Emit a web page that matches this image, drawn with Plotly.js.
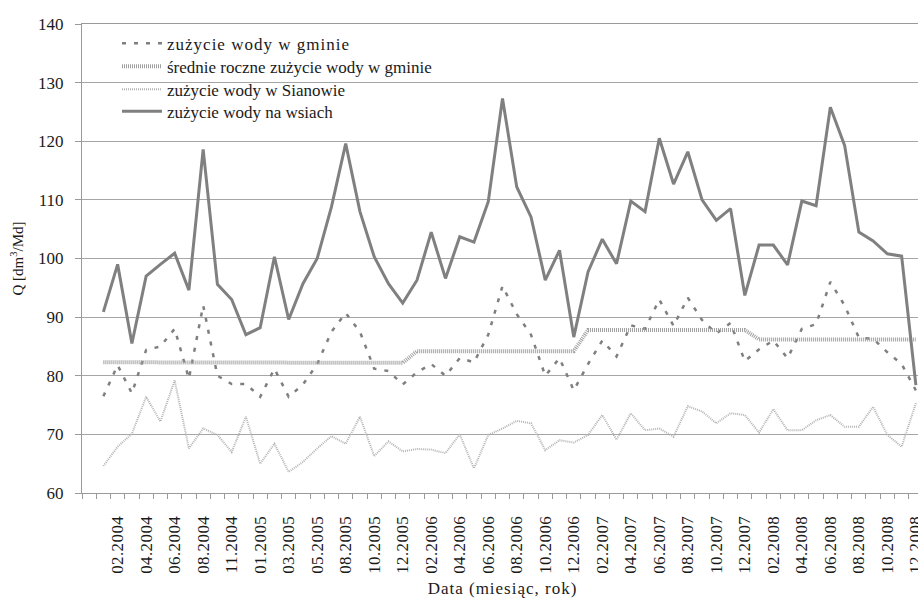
<!DOCTYPE html>
<html>
<head>
<meta charset="utf-8">
<script src="https://cdn.plot.ly/plotly-3.0.1.min.js"></script>
<style>
  html, body { margin: 0; padding: 0; background: #fff; overflow: hidden; }
  #chart { width: 925px; height: 598px; }
  #chart text { font-family: "Liberation Serif", "Times New Roman", "DejaVu Serif", serif !important; }
  #chart .legendtext, #chart .xtitle { letter-spacing: 1px; }
  #chart .xtick text { letter-spacing: 0.4px; }
  #chart .legend .scrollbox, #chart .legend { clip-path: none !important; }
</style>
</head>
<body>
<div id="chart"></div>
<script>
// Months of the series (one category each; a blank slot precedes 01.2004)
const months = [
  '01.2004','02.2004','03.2004','04.2004','05.2004','06.2004','07.2004','08.2004','09.2004','11.2004','12.2004',
  '01.2005','02.2005','03.2005','04.2005','05.2005','06.2005','08.2005','09.2005','10.2005','11.2005','12.2005',
  '01.2006','02.2006','03.2006','04.2006','05.2006','06.2006','07.2006','08.2006','09.2006','10.2006','11.2006','12.2006',
  '01.2007','02.2007','03.2007','04.2007','05.2007','06.2007','07.2007','08.2007','09.2007','10.2007','11.2007','12.2007',
  '01.2008','02.2008','03.2008','04.2008','05.2008','06.2008','07.2008','08.2008','09.2008','10.2008','11.2008','12.2008'
];

// Water use in the commune, dm3 per resident per day
const gmina = [
  76.5, 81.8, 77.0, 84.4, 85.0, 88.0, 79.5, 92.0, 80.0, 78.6, 78.6,
  76.4, 81.2, 76.4, 78.5, 82.0, 87.5, 90.7, 87.5, 81.2, 80.8, 78.5,
  80.6, 82.0, 80.0, 83.0, 82.3, 87.0, 95.3, 90.5, 87.0, 80.0, 83.0, 77.5,
  82.0, 86.0, 83.3, 88.6, 88.0, 93.0, 88.5, 93.3, 89.5, 87.2, 89.0, 82.5,
  84.5, 86.0, 83.0, 88.0, 88.8, 96.0, 92.0, 86.5, 86.3, 84.0, 82.0, 77.5
];

// Annual mean of commune water use
const years = ['2004', '2005', '2006', '2007', '2008'];
const yearMeans = [82.3, 82.2, 84.2, 87.8, 86.2];

// Water use in Sianów
const sianow = [
  64.6, 67.9, 70.1, 76.4, 72.2, 79.2, 67.6, 71.0, 69.9, 67.0, 73.0,
  65.0, 68.4, 63.6, 65.3, 67.6, 69.7, 68.4, 73.0, 66.3, 68.8, 67.1,
  67.5, 67.4, 66.8, 70.0, 64.2, 69.9, 71.0, 72.3, 71.9, 67.3, 69.0, 68.6,
  69.9, 73.3, 69.1, 73.6, 70.7, 71.0, 69.6, 74.8, 73.9, 71.9, 73.6, 73.3,
  70.3, 74.3, 70.7, 70.7, 72.4, 73.3, 71.3, 71.3, 74.7, 69.9, 67.9, 75.3
];

// Water use in the villages
const wsie = [
  90.9, 99.0, 85.5, 97.0, 99.0, 100.9, 94.6, 118.6, 95.6, 93.0, 87.0,
  88.2, 100.3, 89.6, 95.7, 100.0, 108.8, 119.6, 108.0, 100.3, 95.7, 92.4,
  96.3, 104.5, 96.6, 103.7, 102.8, 109.7, 127.3, 112.2, 107.1, 96.3, 101.4, 86.6,
  97.7, 103.3, 99.1, 109.8, 108.0, 120.5, 112.7, 118.2, 110.0, 106.5, 108.5, 93.7,
  102.3, 102.3, 98.9, 109.8, 109.0, 125.8, 119.3, 104.5, 103.0, 100.8, 100.4, 78.4
];

const seriesNames = [
  'zużycie wody w gminie',
  'średnie roczne zużycie wody w gminie',
  'zużycie wody w Sianowie',
  'zużycie wody na wsiach'
];

// Category positions: slot 0 is the blank one, months start at slot 1
const xs = months.map((m, k) => k + 1);
const srednie = months.map(m => yearMeans[years.indexOf(m.slice(3))]);

// Every second slot carries a label
const tickVals = xs.filter(v => v % 2 === 0);
const tickText = tickVals.map(v => months[v - 1]);

const serif = 'Liberation Serif';
const textColor = '#1a1a1a';

const traces = [
  {
    x: xs, y: gmina, name: seriesNames[0], type: 'scatter', mode: 'lines', legend: 'legend',
    line: { color: '#7f7f7f', width: 2.5, dash: '4px,8px' }
  },
  {
    x: xs, y: srednie, name: seriesNames[1], type: 'scatter', mode: 'lines', legend: 'legend2',
    line: { color: '#a0a0a0', width: 4, dash: '1px,1px' }
  },
  {
    x: xs, y: sianow, name: seriesNames[2], type: 'scatter', mode: 'lines', legend: 'legend3',
    line: { color: '#b4b4b4', width: 2, dash: '1px,1px' }
  },
  {
    x: xs, y: wsie, name: seriesNames[3], type: 'scatter', mode: 'lines', legend: 'legend4',
    line: { color: '#808080', width: 3 }
  }
];

// One legend box per row so the rows sit at the chart's line spacing
function legendRow(yPaper) {
  return {
    x: 35 / 841, y: yPaper, xanchor: 'left', yanchor: 'middle',
    bgcolor: 'rgba(0,0,0,0)', borderwidth: 0,
    font: { family: serif, size: 17, color: textColor },
    itemwidth: 40
  };
}

const layout = {
  width: 925,
  height: 598,
  margin: { l: 82, r: 2, t: 24, b: 105 },
  paper_bgcolor: '#ffffff',
  plot_bgcolor: '#ffffff',
  font: { family: serif, size: 17, color: textColor },
  showlegend: true,
  legend: legendRow(0.958),
  legend2: legendRow(0.909),
  legend3: legendRow(0.860),
  legend4: legendRow(0.813),
  // white panel behind the legend rows, above the grid
  shapes: [{
    type: 'rect', xref: 'paper', yref: 'paper', layer: 'between',
    x0: 0.007, x1: 0.4935, y0: 0.785, y1: 0.985,
    fillcolor: '#ffffff', line: { width: 0 }
  }],
  xaxis: {
    range: [-0.5, 58.5],
    tickmode: 'array',
    tickvals: tickVals,
    ticktext: tickText,
    tickangle: -90,
    ticks: 'outside',
    ticklen: 5,
    tickcolor: 'rgba(0,0,0,0)',
    ticklabelstandoff: 10,
    ticklabeloverflow: 'allow',
    tickfont: { family: serif, size: 17, color: textColor },
    showgrid: false,
    zeroline: false,
    showline: true,
    mirror: true,
    linecolor: '#9a9a9a',
    linewidth: 1,
    minor: {
      tickmode: 'linear', tick0: -0.5, dtick: 1,
      ticks: 'outside', ticklen: 5, tickcolor: '#9a9a9a', tickwidth: 1,
      showgrid: false
    },
    title: { text: 'Data (miesiąc, rok)', font: { family: serif, size: 17, color: textColor }, standoff: 13 }
  },
  yaxis: {
    range: [60, 140],
    dtick: 10,
    tick0: 60,
    ticks: 'outside',
    ticklen: 6,
    tickcolor: '#9a9a9a',
    ticklabelstandoff: 8,
    tickfont: { family: serif, size: 17, color: textColor },
    showgrid: true,
    gridcolor: '#a6a6a6',
    gridwidth: 1,
    zeroline: false,
    showline: true,
    linecolor: '#9a9a9a',
    linewidth: 1,
    title: { text: 'Q [dm<sup>3</sup>/Md]', font: { family: serif, size: 15, color: textColor }, standoff: 10 }
  }
};

Plotly.newPlot('chart', traces, layout, { displayModeBar: false, staticPlot: true });
</script>
</body>
</html>
